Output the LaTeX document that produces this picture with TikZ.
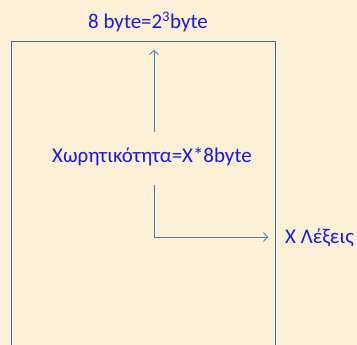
\documentclass[tikz,border=0pt]{standalone}
\usepackage{fontspec}
\setmainfont{Carlito}
\usetikzlibrary{arrows.meta}
\definecolor{bgc}{HTML}{FCF0D6}
\definecolor{boxc}{HTML}{46699A}
\definecolor{arrc}{HTML}{4A7EBB}
\definecolor{txtc}{HTML}{1A1AE6}
\tikzset{
  lbl/.style={text=txtc, font=\fontsize{21}{25}\selectfont, inner sep=0pt},
  conn/.style={draw=arrc, line width=0.8pt, -{Straight Barb[length=4pt,width=9pt]}},
  boxline/.style={draw=boxc, line width=1pt}
}
\begin{document}
\begin{tikzpicture}[x=1bp,y=-1bp]
\fill[bgc] (0,0) rectangle (357,345);
\useasboundingbox (0,0) rectangle (357,345);
\draw[boxline] (11,346) -- (11,41.5) -- (275,41.5) -- (275,346);
\node[lbl] (top) at (148,22) {8 byte=2\textsuperscript{3}byte};
\node[lbl] (cap) at (152,157) {Χωρητικότητα=X*8byte};
\node[lbl, anchor=west] (words) at (285,238) {X Λέξεις};
\coordinate (upS) at (154,132);
\coordinate (upE) at (154,50);
\coordinate (dnS) at (154,185);
\coordinate (corner) at (154,237);
\coordinate (rtE) at (268,237);
\draw[conn] (upS) -- (upE);
\draw[conn] (dnS) -- (corner) -- (rtE);
\end{tikzpicture}
\end{document}
